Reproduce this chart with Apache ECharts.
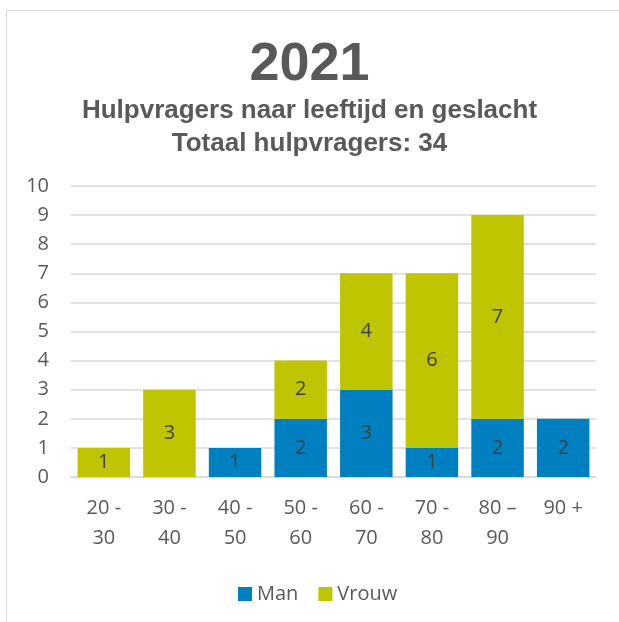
<!DOCTYPE html>
<html>
<head>
<meta charset="utf-8">
<script src="https://cdn.jsdelivr.net/npm/echarts@6/dist/echarts.min.js"></script>
<style>
  html, body { margin: 0; padding: 0; background: #fff; }
  #frame { position: absolute; left: 6px; top: 10px; width: 700px; height: 700px; border: 1.5px solid #d9d9d9; }
  #chart { position: absolute; left: 0; top: 0; width: 619px; height: 622px; }
</style>
</head>
<body>
<div id="frame"></div>
<div id="chart"></div>
<script>
// age groups
const categories = ["20 -\n30", "30 -\n40", "40 -\n50", "50 -\n60", "60 -\n70", "70 -\n80", "80 \u2013\n90", "90 +"];
const man = [0, 0, 1, 2, 3, 1, 2, 2];
const vrouw = [1, 3, 0, 2, 4, 6, 7, 0];

const textColor = "#595959";
const font = "'Open Sans', sans-serif";
const titleFont = "'Liberation Sans', Arial, sans-serif";

/** hide zero segments' labels */
const segLabel = {
  show: true,
  position: "inside",
  color: "#404040",
  fontSize: 20,
  fontFamily: font,
  formatter: (p) => (p.value ? String(p.value) : ""),
};

const chart = echarts.init(document.getElementById("chart"), null, { renderer: "canvas" });

chart.setOption({
  animation: false,
  title: [
    {
      text: "2021",
      left: "center",
      top: 33,
      textStyle: { color: textColor, fontSize: 54, fontWeight: "bold", fontFamily: titleFont },
    },
    {
      text: "Hulpvragers naar leeftijd en geslacht\nTotaal hulpvragers: 34",
      left: "center",
      top: 89,
      textStyle: { color: textColor, fontSize: 26, lineHeight: 33, fontWeight: "bold", fontFamily: titleFont },
    },
  ],
  legend: {
    top: 579,
    left: 233,
    itemWidth: 14,
    itemHeight: 14,
    itemGap: 20,
    icon: "rect",
    textStyle: { color: textColor, fontSize: 20, fontFamily: font },
    data: ["Man", "Vrouw"],
  },
  grid: { left: 71, right: 23, top: 186, bottom: 145 },
  xAxis: {
    type: "category",
    data: categories,
    axisLine: { lineStyle: { color: "#d9d9d9", width: 1.5 } },
    axisTick: { show: false },
    axisLabel: { color: textColor, fontSize: 20, lineHeight: 30, margin: 16, interval: 0, fontFamily: font },
  },
  yAxis: {
    type: "value",
    min: 0,
    max: 10,
    interval: 1,
    axisLine: { show: false },
    axisTick: { show: false },
    splitLine: { lineStyle: { color: "#d9d9d9", width: 1.5 } },
    axisLabel: { color: textColor, fontSize: 20, margin: 22, fontFamily: font },
  },
  series: [
    {
      name: "Man",
      type: "bar",
      stack: "total",
      barCategoryGap: "20%",
      itemStyle: { color: "#0080c0" },
      label: segLabel,
      data: man,
    },
    {
      name: "Vrouw",
      type: "bar",
      stack: "total",
      barCategoryGap: "20%",
      itemStyle: { color: "#bfc500" },
      label: segLabel,
      data: vrouw,
    },
  ],
});
</script>
</body>
</html>
